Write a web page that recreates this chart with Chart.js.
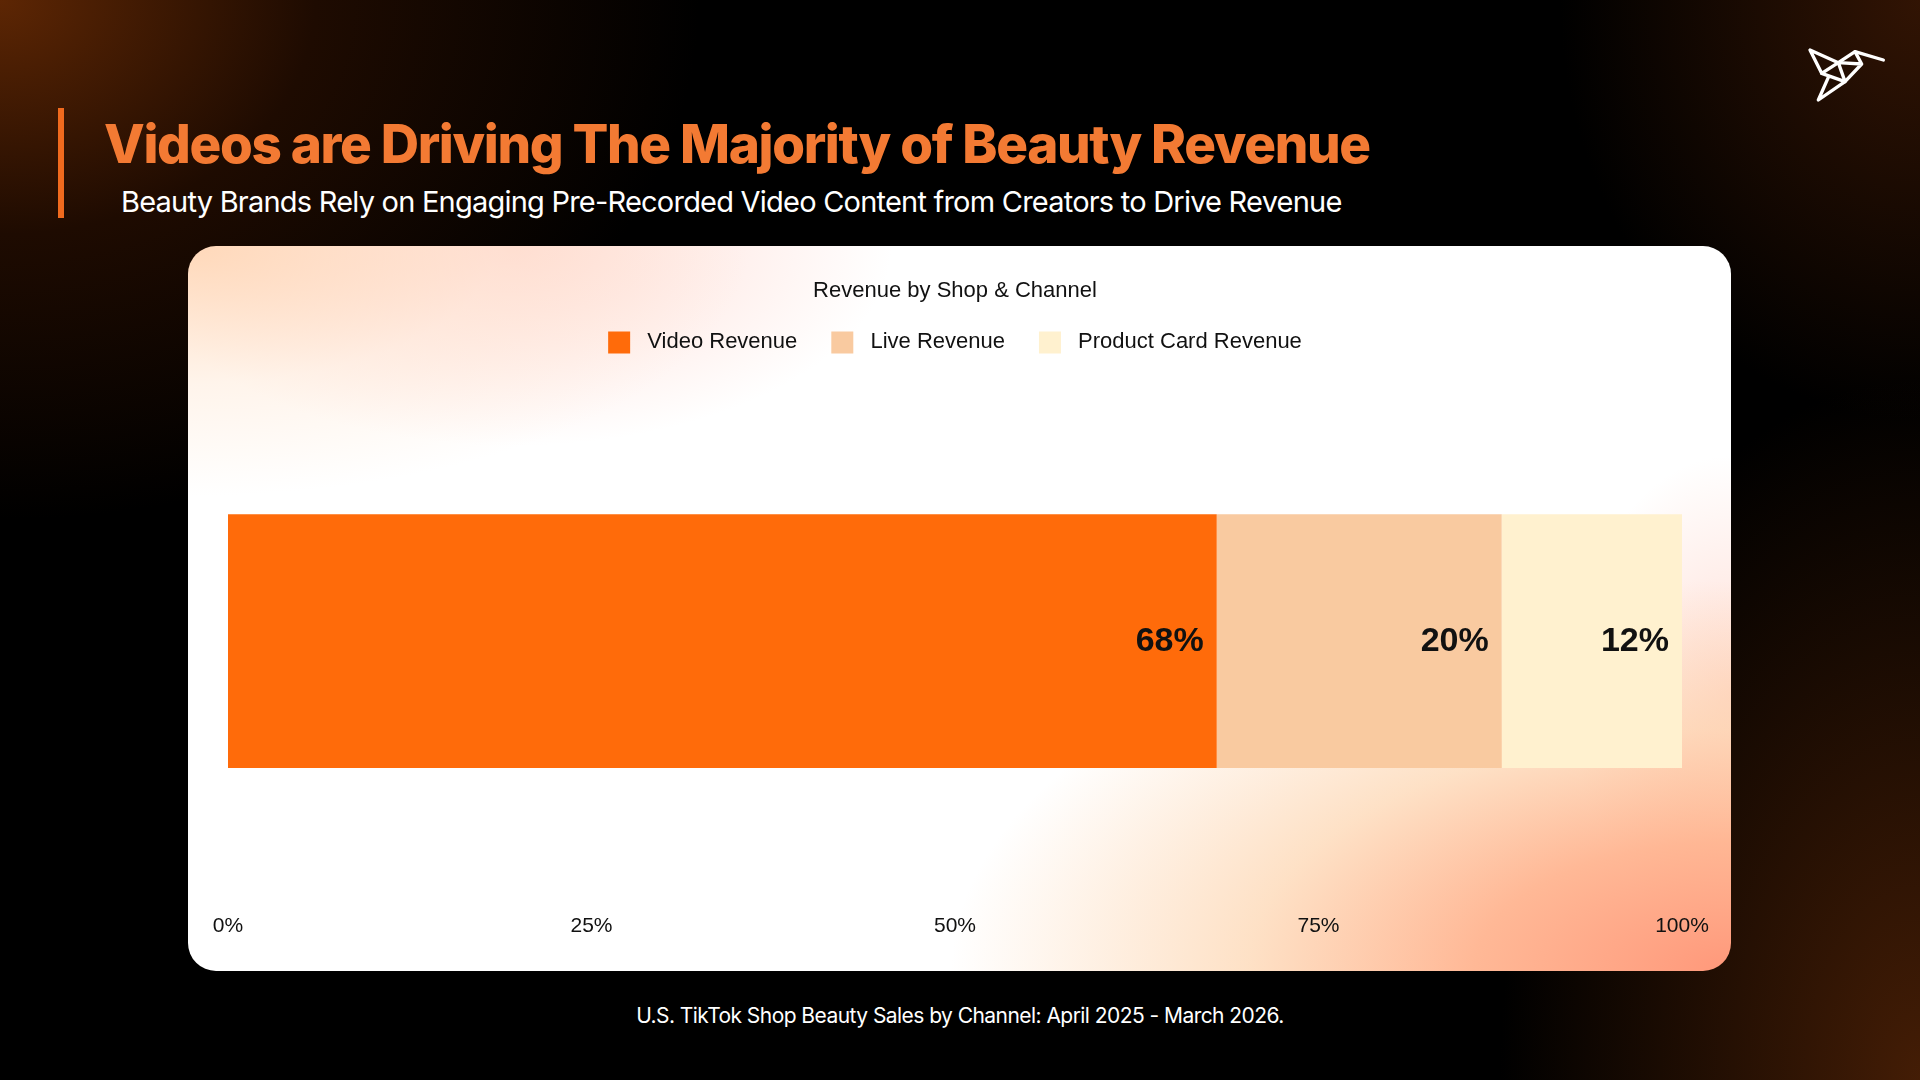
<!DOCTYPE html>
<html>
<head>
<meta charset="utf-8">
<script src="https://cdn.jsdelivr.net/npm/chart.js@4.4.1/dist/chart.umd.min.js"></script>
<style>
  html, body { margin: 0; padding: 0; }
  body {
    width: 1920px; height: 1080px; overflow: hidden; position: relative;
    background:
      radial-gradient(ellipse 700px 520px at 0% 0%, rgba(98,40,4,0.95), rgba(60,22,2,0.5) 45%, rgba(0,0,0,0) 100%),
      radial-gradient(ellipse 420px 700px at 100% 100%, rgba(75,32,6,0.9), rgba(0,0,0,0) 100%),
      radial-gradient(ellipse 360px 420px at 100% 0%, rgba(55,22,4,0.9), rgba(0,0,0,0) 100%),
      #000;
    font-family: Inter, "Noto Sans", sans-serif;
  }
  .accent { position: absolute; left: 58px; top: 108px; width: 6px; height: 110px; background: #f06a1e; }
  h1 {
    position: absolute; left: 104px; top: 112px; margin: 0;
    font-size: 53px; font-weight: 800; letter-spacing: -1.35px; color: #f37a33; white-space: nowrap;
  }
  .sub {
    position: absolute; left: 121px; top: 184px; margin: 0;
    font-size: 29px; font-weight: 400; letter-spacing: -0.78px; color: #fff; white-space: nowrap;
  }
  .card {
    position: absolute; left: 188px; top: 246px; width: 1543px; height: 725px;
    border-radius: 28px; overflow: hidden;
    background:
      radial-gradient(ellipse 560px 250px at 0% 0%, rgba(255,208,170,0.8), rgba(255,228,205,0.4) 55%, rgba(255,255,255,0) 100%),
      radial-gradient(ellipse 380px 200px at 21% 0%, rgba(255,200,188,0.65), rgba(255,255,255,0) 100%),
      radial-gradient(ellipse 780px 390px at 100% 100%, rgba(255,152,122,1), rgba(255,172,132,0.85) 33%, rgba(253,205,160,0.6) 62%, rgba(255,255,255,0) 100%),
      radial-gradient(ellipse 160px 240px at 100% 62%, rgba(255,195,180,0.55), rgba(255,255,255,0) 100%),
      #fff;
  }
  .card canvas { position: absolute; left: 0; top: 0; }
  .foot {
    position: absolute; left: 0; width: 1920px; top: 1003px; text-align: center;
    font-size: 21px; color: #fff; letter-spacing: -0.55px;
  }
  .logo { position: absolute; left: 1795px; top: 40px; }
</style>
</head>
<body>
<div class="accent"></div>
<h1>Videos are Driving The Majority of Beauty Revenue</h1>
<p class="sub">Beauty Brands Rely on Engaging Pre-Recorded Video Content from Creators to Drive Revenue</p>
<div class="card"><canvas id="revenueChart" width="1543" height="725"></canvas></div>
<div class="foot">U.S. TikTok Shop Beauty Sales by Channel: April 2025 - March 2026.</div>
<svg class="logo" width="100" height="70" viewBox="0 0 300 210">
  <g fill="none" stroke="#fff" stroke-width="10" stroke-linejoin="round" stroke-linecap="round">
    <polygon points="45,30 130,68 80,100"/>
    <polyline points="130,68 180,35 265,60"/>
    <polyline points="180,35 200,72 130,68 150,125 200,72"/>
    <polyline points="80,100 150,125 70,180 100,112"/>
  </g>
</svg>
<script>
const categories = ['Beauty'];
const seriesNames = ['Video Revenue', 'Live Revenue', 'Product Card Revenue'];
const videoShare = [68.0];
const liveShare = [19.6];
const productCardShare = [12.4];
const tickValues = [0, 25, 50, 75, 100];

const seriesColors = ['#ff6b0a', '#f9caa0', '#fff1cf'];

document.addEventListener('DOMContentLoaded', () => {
    const ctx = document.getElementById('revenueChart');

    // value labels at the right end of each segment
    const segmentLabels = {
        id: 'segmentLabels',
        afterDatasetsDraw(chart) {
            const c = chart.ctx;
            c.save();
            c.font = 'bold 34px "Liberation Sans", Arial, sans-serif';
            c.fillStyle = '#111';
            c.textAlign = 'right';
            c.textBaseline = 'middle';
            chart.data.datasets.forEach((ds, i) => {
                chart.getDatasetMeta(i).data.forEach((bar, j) => {
                    c.fillText(Math.round(ds.data[j]) + '%', bar.x - 13, bar.y + 1);
                });
            });
            c.restore();
        }
    };

    // extra gap under the legend
    const legendGap = {
        id: 'legendGap',
        beforeInit(chart) {
            const fit = chart.legend.fit;
            chart.legend.fit = function () {
                fit.bind(chart.legend)();
                this.height += 21;
            };
        }
    };

    new Chart(ctx, {
        type: 'bar',
        data: {
            labels: categories,
            datasets: [
                { label: seriesNames[0], data: videoShare, backgroundColor: seriesColors[0] },
                { label: seriesNames[1], data: liveShare, backgroundColor: seriesColors[1] },
                { label: seriesNames[2], data: productCardShare, backgroundColor: seriesColors[2] }
            ]
        },
        options: {
            indexAxis: 'y',
            responsive: false,
            animation: false,
            layout: { padding: { left: 40, right: 49, bottom: 24 } },
            datasets: { bar: { barPercentage: 0.494, categoryPercentage: 1, borderWidth: 0 } },
            plugins: {
                title: {
                    display: true,
                    text: 'Revenue by Shop & Channel',
                    color: '#111',
                    font: { family: '"Liberation Sans", Arial, sans-serif', size: 22, weight: 'normal' },
                    padding: { top: 32, bottom: -7 }
                },
                legend: {
                    display: true,
                    labels: {
                        color: '#111',
                        boxWidth: 22,
                        boxHeight: 22,
                        padding: 34,
                        font: { family: '"Liberation Sans", Arial, sans-serif', size: 22 },
                        generateLabels(chart) {
                            const items = Chart.defaults.plugins.legend.labels.generateLabels(chart);
                            items.forEach(it => { it.text = ' ' + it.text; });
                            return items;
                        }
                    }
                },
                tooltip: { enabled: false }
            },
            scales: {
                x: {
                    stacked: true,
                    min: 0,
                    max: 100,
                    grid: { display: false },
                    border: { display: false },
                    afterBuildTicks(axis) { axis.ticks = tickValues.map(v => ({ value: v })); },
                    ticks: {
                        padding: 8,
                        color: '#111',
                        maxRotation: 0,
                        font: { family: '"Liberation Sans", Arial, sans-serif', size: 21 },
                        callback: v => v + '%'
                    }
                },
                y: {
                    stacked: true,
                    display: false
                }
            }
        },
        plugins: [segmentLabels, legendGap]
    });
});
</script>
</body>
</html>
